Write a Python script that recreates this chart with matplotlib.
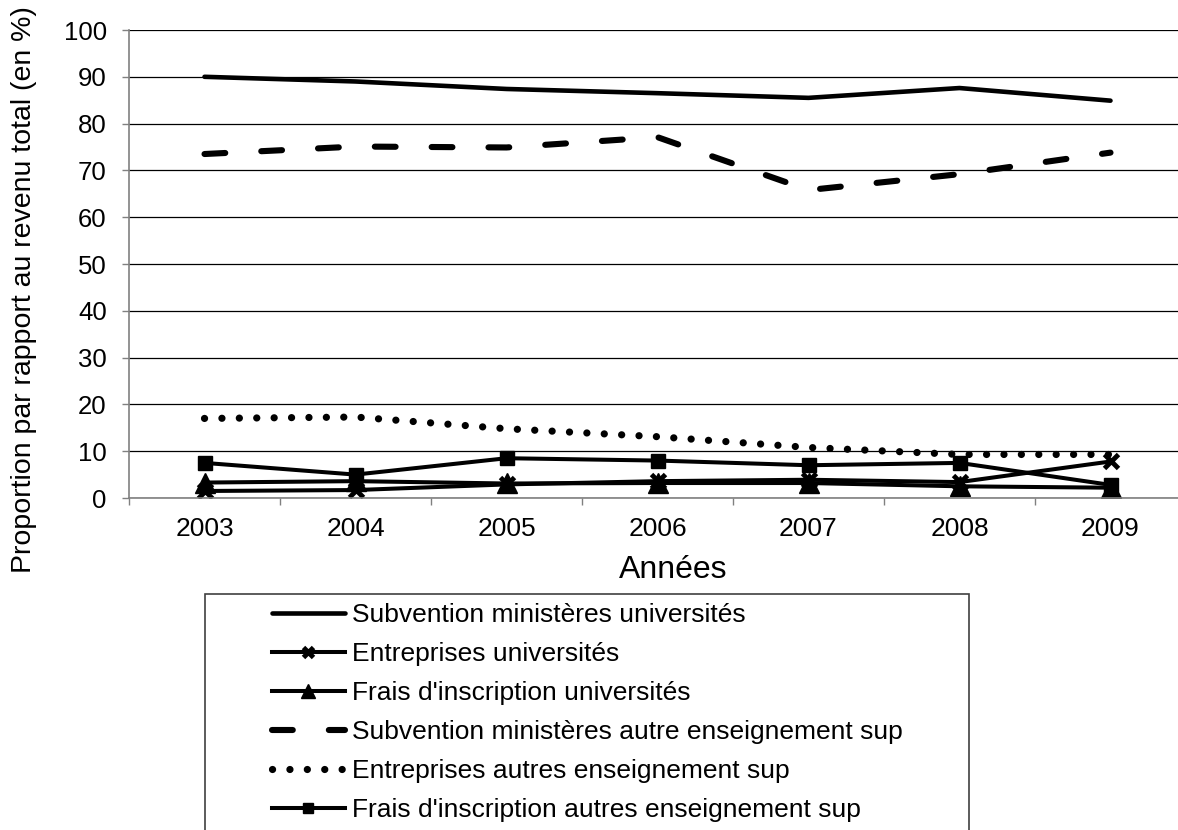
import numpy as np
import matplotlib.pyplot as plt
from matplotlib.patches import Rectangle

plt.rcParams['font.family'] = ['Liberation Sans', 'DejaVu Sans']

# --- data -------------------------------------------------------------------
years = ['2003', '2004', '2005', '2006', '2007', '2008', '2009']

subv_univ = [90.0, 89.0, 87.4, 86.5, 85.5, 87.6, 84.9]
entr_univ = [1.5, 1.7, 2.9, 3.6, 3.9, 3.4, 7.8]
frais_univ = [3.3, 3.6, 3.1, 3.2, 3.2, 2.5, 2.2]
subv_autre = [73.5, 75.1, 74.9, 77.1, 65.8, 69.2, 73.8]
entr_autre = [17.0, 17.3, 14.8, 13.1, 10.8, 9.3, 9.3]
frais_autre = [7.5, 5.0, 8.5, 8.0, 7.0, 7.5, 2.8]

labels = ['Subvention ministères universités',
          'Entreprises universités',
          "Frais d'inscription universités",
          'Subvention ministères autre enseignement sup',
          'Entreprises autres enseignement sup',
          "Frais d'inscription autres enseignement sup"]

# --- figure -----------------------------------------------------------------
W, H = 1178, 830
fig = plt.figure(figsize=(W / 100, H / 100), dpi=100)
ax = fig.add_axes([129 / W, 1 - 498 / H, (1186 - 129) / W, 468 / H])

x = np.arange(len(years))

ax.plot(x, subv_univ, color='black', lw=3.3, solid_capstyle='round',
        label=labels[0])
ax.plot(x, entr_univ, color='black', lw=2.9, marker='x', ms=10, mew=3.5,
        label=labels[1])
ax.plot(x, frais_univ, color='black', lw=2.9, marker='^', ms=14,
        label=labels[2])
ax.plot(x, subv_autre, color='black', lw=4.4, dashes=(3.4, 5.9),
        dash_capstyle='round', label=labels[3])
ax.plot(x, entr_autre, color='black', lw=5.2, dashes=(0.01, 2.4),
        dash_capstyle='round', label=labels[4])
ax.plot(x, frais_autre, color='black', lw=2.9, marker='s', ms=9.5,
        label=labels[5])

# axes styling
ax.set_xlim(-0.5, len(years) - 0.5)
ax.set_ylim(0, 100)
ax.set_yticks(np.arange(0, 101, 10))
ax.set_xticks(np.arange(-0.5, len(years), 1.0))
ax.set_xticklabels([])
ax.set_xticks(x, minor=True)
ax.set_xticklabels(years, minor=True)
ax.tick_params(axis='x', which='minor', length=0, pad=14, labelsize=19)
ax.tick_params(axis='x', which='major', length=5, width=1, color='#808080',
               direction='out')
ax.tick_params(axis='y', length=5, width=1, color='#808080', direction='out',
               pad=11, labelsize=18.5)
ax.yaxis.grid(True, color='black', lw=0.9)
ax.set_axisbelow(True)
for side in ['top', 'right']:
    ax.spines[side].set_visible(False)
for side in ['left', 'bottom']:
    ax.spines[side].set_color('#808080')
    ax.spines[side].set_linewidth(1.2)

ax.set_ylabel('Proportion par rapport au revenu total (en %)', fontsize=20.5)
ax.yaxis.set_label_coords((37 - 129) / (1186 - 129), (498 - 290) / 468)

fig.text(673 / W, 1 - 570 / H, 'Années', fontsize=23, ha='center',
         va='center')

# legend box and entries
fig.patches.append(Rectangle((205 / W, -0.01), (969 - 205) / W,
                             1 - 594 / H + 0.01, transform=fig.transFigure,
                             fill=False, edgecolor='#404040', lw=1.2))
fig.legend(loc='upper left', bbox_to_anchor=(272 / W, 1 - 603 / H),
           frameon=False, fontsize=19, borderpad=0, borderaxespad=0,
           handlelength=2.75, handletextpad=0.27, labelspacing=0.57,
           markerscale=0.75)

fig.savefig('out.png', dpi=100)
